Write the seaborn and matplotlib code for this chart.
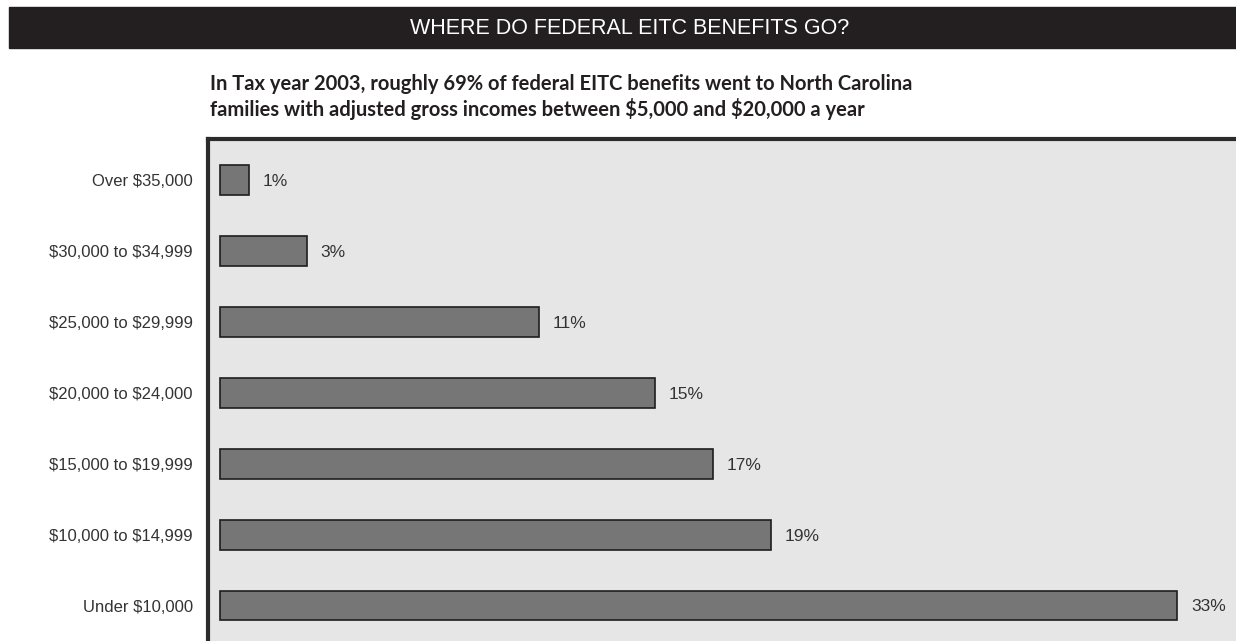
import pandas as pd
import seaborn as sns
import matplotlib.pyplot as plt
from matplotlib.patches import Rectangle

categories = ["Over $35,000", "$30,000 to $34,999", "$25,000 to $29,999",
              "$20,000 to $24,000", "$15,000 to $19,999", "$10,000 to $14,999",
              "Under $10,000"]
shares = [1, 3, 11, 15, 17, 19, 33]
value_labels = ["1%", "3%", "11%", "15%", "17%", "19%", "33%"]

header = "WHERE DO FEDERAL EITC BENEFITS GO?"
subtitle = ("In Tax year 2003, roughly 69% of federal EITC benefits went to North Carolina\n"
            "families with adjusted gross incomes between $5,000 and $20,000 a year")

sns.set_style("white")
narrow = ["Liberation Sans Narrow", "Liberation Sans", "DejaVu Sans"]
plt.rcParams["font.family"] = narrow
plt.rcParams["text.parse_math"] = False

df = pd.DataFrame({"bracket": categories, "share": shares})

W, H = 1236, 641
fig = plt.figure(figsize=(W / 100, H / 100), dpi=100)

# header bar
fig.patches.append(Rectangle((9 / W, 1 - 48 / H), (W - 9) / W, 41 / H,
                             transform=fig.transFigure, color="#231f20", zorder=0))
fig.text(630 / W, 1 - 28 / H, header, color="white", fontsize=15.5,
         ha="center", va="center", family=narrow)
fig.text(210 / W, 1 - 97 / H, subtitle, color="#231f20", fontsize=14.5,
         fontweight="bold", ha="left", va="center", linespacing=1.2,
         family=["Lato", "DejaVu Sans"])

ax = fig.add_axes([208 / W, 0, (W - 208) / W, (H - 139) / H])
sns.barplot(data=df, y="bracket", x="share", orient="h", ax=ax,
            color="#767676", saturation=1, width=0.42,
            edgecolor="#1e1e1e", linewidth=1.2)

ax.set_facecolor("#e6e6e6")
ax.set_xlim(-0.41, 35.03)
ax.set_ylim(6.5, -0.58)
ax.set_xlabel("")
ax.set_ylabel("")
ax.set_xticks([])
for s in ["right", "bottom"]:
    ax.spines[s].set_visible(False)
for s in ["left", "top"]:
    ax.spines[s].set_linewidth(3)
    ax.spines[s].set_color("#2b2b2b")
ax.tick_params(axis="y", length=0, pad=11, labelsize=12, labelcolor="#333333")

for i, (v, lab) in enumerate(zip(shares, value_labels)):
    ax.annotate(lab, (v, i), xytext=(10, -1), textcoords="offset points",
                va="center", ha="left", fontsize=12.5, color="#333333")

fig.savefig("out.png", dpi=100)
